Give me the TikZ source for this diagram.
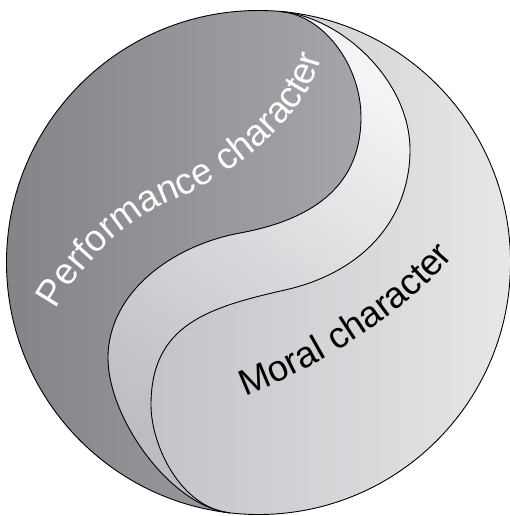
\documentclass[tikz,border=0pt]{standalone}
\usepackage{fontspec}
\newfontfamily\labelfont{Liberation Sans}
\usetikzlibrary{decorations.text}
\definecolor{darkL}{HTML}{838387}
\definecolor{darkR}{HTML}{A6A6AA}
\definecolor{moralL}{HTML}{B5B6B9}
\definecolor{moralR}{HTML}{E6E7E9}
\definecolor{bandT}{HTML}{F3F4F6}
\definecolor{bandB}{HTML}{BCBDC0}
\tikzset{
  outline/.style={draw=black, line width=0.9pt},
}
\begin{document}
\begin{tikzpicture}[x=1pt,y=1pt]
\useasboundingbox (0,0) rectangle (510,-516);
\coordinate (C) at (258.5,-262.5);
\coordinate (T) at ([shift={(258.5,-262.5)}]85.1:252);
\coordinate (Bt) at ([shift={(258.5,-262.5)}]263.5:252);
\def\curveA{(T) .. controls (325,-15.3) and (361,-67) .. (361,-117)
  .. controls (361,-182) and (318.4,-218.6) .. (240,-233)
  .. controls (171.4,-245.6) and (108,-293) .. (108,-358)
  .. controls (108,-418) and (170.4,-506.2) .. (Bt)}
\def\curveArev{(Bt) .. controls (170.4,-506.2) and (108,-418) .. (108,-358)
  .. controls (108,-293) and (171.4,-245.6) .. (240,-233)
  .. controls (318.4,-218.6) and (361,-182) .. (361,-117)
  .. controls (361,-67) and (325,-15.3) .. (T)}
\def\curveB{(T) .. controls (340.8,-16.6) and (410,-80) .. (410,-150)
  .. controls (410,-215) and (367.5,-271.3) .. (285,-290)
  .. controls (207.4,-307.6) and (151,-325) .. (151,-405)
  .. controls (151,-445) and (180.3,-507.4) .. (Bt)}
% moral region (whole disc)
\shade[left color=moralL, right color=moralR] (C) circle[radius=252];
% band between the two curves
\shade[top color=bandT, bottom color=bandB, shading angle=-35]
  \curveB -- \curveArev -- cycle;
% performance region
\shade[left color=darkL, right color=darkR]
  \curveA arc[start angle=263.5, end angle=85.1, radius=252] -- cycle;
\draw[outline] \curveA;
\draw[outline] \curveB;
\draw[outline] (C) circle[radius=252];
% labels
\path[decorate, decoration={text along path, text align=left,
   text={|\labelfont\fontsize{37}{44}\selectfont\color{white}|Performance character}}]
  (56,-310) .. controls (80,-266) and (124,-221) .. (170,-202)
  .. controls (230,-178) and (304,-120) .. (320,-62) -- (326,-20);
\path[decorate, decoration={text along path, text align=left,
   text={|\labelfont\fontsize{36.5}{44}\selectfont\color{black}|Moral character}}]
  (245,-396) .. controls (347,-356) and (420,-296) .. (452,-258) -- (480,-222);
\end{tikzpicture}
\end{document}
